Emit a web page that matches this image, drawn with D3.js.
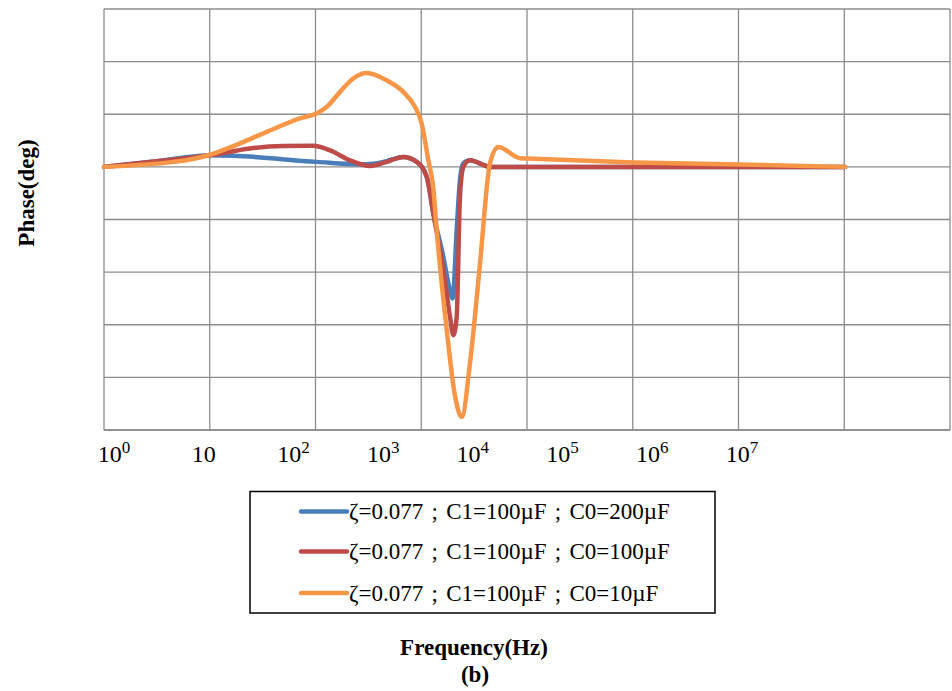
<!DOCTYPE html>
<html>
<head>
<meta charset="utf-8">
<script src="https://cdn.jsdelivr.net/npm/d3@7"></script>
<style>
  html, body { margin: 0; padding: 0; background: #fff; }
  svg { display: block; }
  text { font-family: "Liberation Serif", "Times New Roman", serif; fill: #000; }
</style>
</head>
<body>
<svg id="chart" width="952" height="691"></svg>
<script>
// ---- Data (x as log10 of frequency in Hz, y as phase in deg) ----
const tickLabels = ["10^0", "10", "10^2", "10^3", "10^4", "10^5", "10^6", "10^7"];
const gridDecades = [0, 1, 2, 3, 4, 5, 6, 7, 8];
const gridPhases = [-100, -80, -60, -40, -20, 0, 20, 40, 60];

const seriesNames = [
  "ζ=0.077 ; C1=100µF ; C0=200µF",
  "ζ=0.077 ; C1=100µF ; C0=100µF",
  "ζ=0.077 ; C1=100µF ; C0=10µF"
];
const seriesColors = ["#4a7ebb", "#be4b48", "#f79646"];

const blueLogF = [0, 0.498, 1.002, 1.223, 2.011, 2.421, 2.547, 2.673, 2.830, 2.957, 3.052, 3.114, 3.208, 3.256, 3.297, 3.335, 3.366, 3.398, 3.461, 3.650, 4.009, 5.012, 6.014, 7.007];
const bluePhase = [0, 2.1, 4.4, 4.2, 1.9, 1.0, 1.2, 2.2, 3.8, 1.9, -3.8, -17.7, -34, -44, -50, -24, -5, 1.3, 2.5, 0, 0, 0, 0, 0];

const redLogF = [0, 0.498, 1.002, 1.381, 1.696, 1.979, 2.137, 2.326, 2.515, 2.673, 2.830, 2.957, 3.052, 3.114, 3.208, 3.272, 3.303, 3.335, 3.366, 3.398, 3.461, 3.650, 4.009, 5.012, 6.014, 7.007];
const redPhase = [0, 2.1, 4.4, 7.0, 7.9, 8.0, 6.3, 2.5, 0.3, 1.9, 3.8, 1.9, -3.8, -17.7, -39, -57, -64, -57, -11.4, 0, 2.5, 0, 0, 0, 0, 0];

const orangeLogF = [0, 0.655, 0.813, 1.002, 1.223, 1.539, 1.853, 2.011, 2.106, 2.232, 2.357, 2.484, 2.673, 2.830, 2.941, 3.004, 3.067, 3.114, 3.146, 3.241, 3.319, 3.383, 3.461, 3.556, 3.650, 3.729, 3.934, 4.009, 5.012, 6.014, 7.007];
const orangePhase = [0, 1.9, 2.8, 4.6, 7.9, 13.3, 18.4, 20.3, 22.8, 28.5, 33.6, 35.7, 32.9, 28.5, 22.8, 16.5, 2.5, -8, -24, -62, -87, -95, -74.6, -36.6, 1.4, 7.6, 3.3, 3.2, 1.7, 0.9, 0];

const seriesData = [
  [blueLogF, bluePhase],
  [redLogF, redPhase],
  [orangeLogF, orangePhase]
];

// ---- Layout ----
const svg = d3.select("#chart");
const plot = { left: 104, right: 950, top: 9, bottom: 430 };

const x = d3.scaleLog().domain([1, 1e8]).range([plot.left, plot.right]);
const y = d3.scaleLinear().domain([-100, 60]).range([plot.bottom, plot.top]);
const labelScale = d3.scalePoint().domain(tickLabels).range([114, 742]);

const gridColor = "#8c8c8c";

// grid
svg.append("g").selectAll("line").data(gridPhases).join("line")
  .attr("x1", plot.left).attr("x2", plot.right)
  .attr("y1", d => y(d)).attr("y2", d => y(d))
  .attr("stroke", gridColor).attr("stroke-width", 1.3);
svg.append("g").selectAll("line").data(gridDecades).join("line")
  .attr("x1", d => x(Math.pow(10, d))).attr("x2", d => x(Math.pow(10, d)))
  .attr("y1", plot.top).attr("y2", plot.bottom)
  .attr("stroke", gridColor).attr("stroke-width", 1.3);

// axis line at bottom
svg.append("line")
  .attr("x1", plot.left).attr("x2", plot.right)
  .attr("y1", plot.bottom).attr("y2", plot.bottom)
  .attr("stroke", gridColor).attr("stroke-width", 1.6);

// tick labels
const tl = svg.append("g").selectAll("text").data(tickLabels).join("text")
  .attr("x", d => labelScale(d)).attr("y", 462)
  .attr("text-anchor", "middle")
  .style("font-size", "24px");
tl.each(function(d) {
  const parts = d.split("^");
  const t = d3.select(this);
  t.append("tspan").text(parts[0]);
  if (parts[1] !== undefined) {
    t.append("tspan").attr("dy", -9).style("font-size", "17px").text(parts[1]);
  }
});

// lines
const line = d3.line()
  .x(d => x(Math.pow(10, d[0])))
  .y(d => y(d[1]))
  .curve(d3.curveMonotoneX);

seriesData.forEach((s, i) => {
  const pts = s[0].map((lf, k) => [lf, s[1][k]]);
  svg.append("path")
    .attr("d", line(pts))
    .attr("fill", "none")
    .attr("stroke", seriesColors[i])
    .attr("stroke-width", 4.5)
    .attr("stroke-linejoin", "round")
    .attr("stroke-linecap", "round");
});

// legend
const lg = svg.append("g");
lg.append("rect")
  .attr("x", 250).attr("y", 491.5).attr("width", 465).attr("height", 121.5)
  .attr("fill", "#fff").attr("stroke", "#000").attr("stroke-width", 1.5);
const rowY = [511.5, 551.5, 593];
seriesNames.forEach((name, i) => {
  lg.append("line")
    .attr("x1", 301).attr("x2", 347)
    .attr("y1", rowY[i]).attr("y2", rowY[i])
    .attr("stroke", seriesColors[i]).attr("stroke-width", 4.5)
    .attr("stroke-linecap", "round");
  lg.append("text")
    .attr("x", 349).attr("y", rowY[i] + 7.5)
    .style("font-size", "23px")
    .style("white-space", "pre")
    .style("word-spacing", "2.5px")
    .text(name);
});

// axis titles
svg.append("text")
  .attr("transform", "translate(34,193) rotate(-90)")
  .attr("text-anchor", "middle")
  .style("font-size", "23px").style("font-weight", "bold")
  .text("Phase(deg)");
svg.append("text")
  .attr("x", 474).attr("y", 655)
  .attr("text-anchor", "middle")
  .style("font-size", "23px").style("font-weight", "bold")
  .text("Frequency(Hz)");
svg.append("text")
  .attr("x", 475).attr("y", 682)
  .attr("text-anchor", "middle")
  .style("font-size", "23px").style("font-weight", "bold")
  .text("(b)");
</script>
</body>
</html>
